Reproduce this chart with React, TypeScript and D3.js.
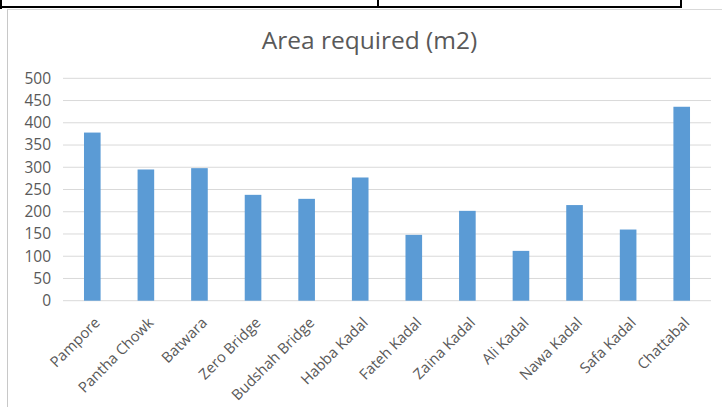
import React from "react";
import * as d3 from "d3";

const categories = [
  "Pampore",
  "Pantha Chowk",
  "Batwara",
  "Zero Bridge",
  "Budshah Bridge",
  "Habba Kadal",
  "Fateh Kadal",
  "Zaina Kadal",
  "Ali Kadal",
  "Nawa Kadal",
  "Safa Kadal",
  "Chattabal",
];
const areaValues = [378, 295, 298, 238, 229, 277, 148, 202, 112, 215, 160, 436];
const yTicks = [0, 50, 100, 150, 200, 250, 300, 350, 400, 450, 500];
const title = "Area required (m2)";

const W = 722;
const H = 407;
const FONT = "'Open Sans', 'Noto Sans', sans-serif";
const TEXT = "#595959";

export default function App() {
  const x = d3
    .scaleBand<string>()
    .domain(categories)
    .range([65.5, 708.5])
    .paddingInner(0.69)
    .paddingOuter(0.345);
  const y = d3.scaleLinear().domain([0, 500]).range([300.7, 78.3]);

  return (
    <svg
      width={W}
      height={H}
      style={{ position: "absolute", left: 0, top: 0, display: "block", background: "#fff" }}
    >
      {/* table border fragments above the chart */}
      <line x1={0} x2={681} y1={7} y2={7} stroke="#000" strokeWidth={2} />
      <line x1={1} x2={1} y1={0} y2={9} stroke="#000" strokeWidth={2} />
      <line x1={378} x2={378} y1={0} y2={7} stroke="#000" strokeWidth={2} />
      <line x1={681} x2={681} y1={0} y2={8} stroke="#000" strokeWidth={2} />

      {/* chart frame */}
      <rect x={7.5} y={9.5} width={800} height={500} fill="#fff" stroke="#d9d9d9" />
      <line x1={7.5} x2={7.5} y1={9.5} y2={H} stroke="#c8c8c8" />

      <text
        x={369.5}
        y={49}
        textAnchor="middle"
        fontFamily={FONT}
        fontSize={24.5}
        fill={TEXT}
      >
        {title}
      </text>

      {yTicks.map((t) => (
        <g key={t}>
          <line x1={63} x2={711} y1={y(t)} y2={y(t)} stroke="#d9d9d9" strokeWidth={1} />
          <text
            x={51}
            y={y(t)}
            dy="0.35em"
            textAnchor="end"
            fontFamily={FONT}
            fontSize={15.5}
            fill={TEXT}
          >
            {t}
          </text>
        </g>
      ))}

      {categories.map((c, i) => (
        <rect
          key={c}
          x={x(c)}
          y={y(areaValues[i])}
          width={x.bandwidth()}
          height={y(0) - y(areaValues[i])}
          fill="#5b9bd5"
        />
      ))}

      {categories.map((c) => {
        const cx = (x(c) as number) + x.bandwidth() / 2;
        return (
          <text
            key={c}
            transform={`translate(${cx + 5},${320}) rotate(-45)`}
            dy="0.35em"
            textAnchor="end"
            fontFamily={FONT}
            fontSize={14.8}
            fill={TEXT}
          >
            {c}
          </text>
        );
      })}
    </svg>
  );
}
